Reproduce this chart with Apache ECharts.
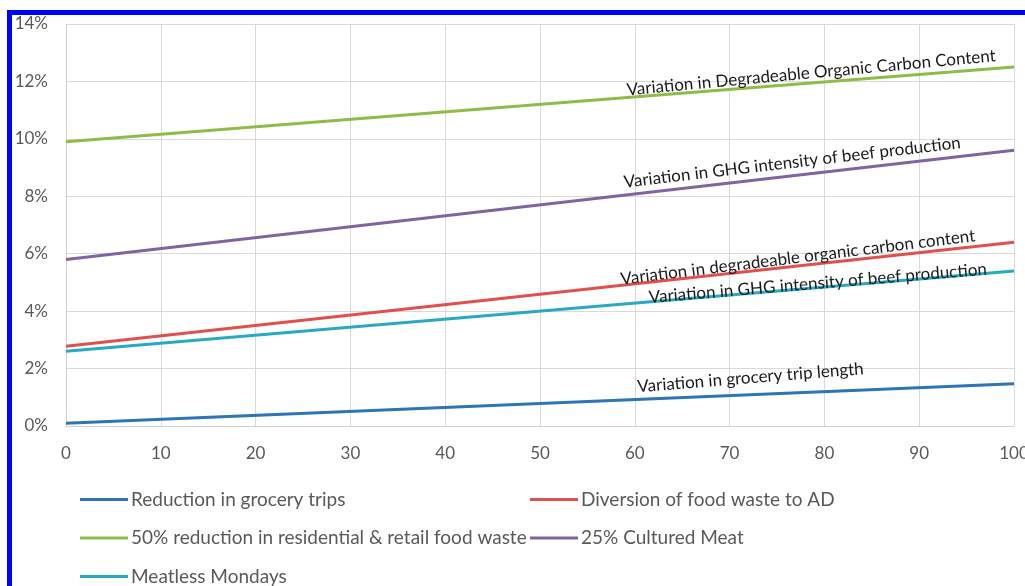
<!DOCTYPE html>
<html>
<head>
<meta charset="utf-8">
<script src="https://cdn.jsdelivr.net/npm/echarts@6/dist/echarts.min.js"></script>
<style>
  html, body { margin: 0; padding: 0; background: #fff; overflow: hidden; width: 1025px; height: 586px; }
  #chart { position: absolute; left: 0; top: 0; width: 1025px; height: 586px; }
  #frameTop { position: absolute; left: 7px; top: 10px; width: 1018px; height: 5px; background: #0000ff; }
  #frameLeft { position: absolute; left: 7px; top: 10px; width: 5px; height: 576px; background: #0000ff; }
</style>
</head>
<body>
<div id="chart"></div>
<div id="frameTop"></div>
<div id="frameLeft"></div>
<script>
// ---- data ----
var xValues = [0, 100];
var seriesNames = [
  'Reduction in grocery trips',
  'Diversion of food waste to AD',
  '50% reduction in residential & retail food waste',
  '25% Cultured Meat',
  'Meatless Mondays'
];
var groceryTrips = [0.1, 1.47];
var foodWasteAD = [2.78, 6.4];
var foodWaste50 = [9.9, 12.5];
var culturedMeat = [5.8, 9.6];
var meatlessMondays = [2.6, 5.4];
var yTicks = [0, 2, 4, 6, 8, 10, 12, 14];
var xTicks = [0, 10, 20, 30, 40, 50, 60, 70, 80, 90, 100];
// annotation texts (anchored in data coordinates)
var annoText = [
  'Variation in grocery trip length',
  'Variation in degradeable organic carbon content',
  'Variation in Degradeable Organic Carbon Content',
  'Variation in GHG intensity of beef production',
  'Variation in GHG intensity of beef production'
];
var annoX = [72.2, 77.2, 78.6, 76.6, 79.3];
var annoY = [1.68, 5.87, 12.3, 9.18, 4.97];
var annoAngle = [4.6, 7.0, 5.3, 6.7, 4.8];

var colors = ['#2e75b6', '#e0504f', '#8fbc48', '#8064a2', '#28a9c4'];
var values = [groceryTrips, foodWasteAD, foodWaste50, culturedMeat, meatlessMondays];
var FONT = 'Lato';

var chart = echarts.init(document.getElementById('chart'), null, { renderer: 'canvas', width: 1025, height: 586 });

var series = seriesNames.map(function (name, i) {
  return {
    name: name,
    type: 'line',
    data: xValues.map(function (x, j) { return [x, values[i][j]]; }),
    showSymbol: false,
    symbol: 'none',
    lineStyle: { width: 3, color: colors[i] },
    itemStyle: { color: colors[i] },
    silent: true,
    markPoint: {
      symbol: 'circle',
      symbolSize: 0,
      silent: true,
      data: [{
        coord: [annoX[i], annoY[i]],
        label: {
          show: true,
          position: 'inside',
          formatter: annoText[i],
          rotate: annoAngle[i],
          color: '#1a1a1a',
          fontFamily: FONT,
          fontSize: 17
        }
      }]
    }
  };
});

// legend layout: two columns, three rows (Excel style)
var legendSlots = [[80, 0], [530, 0], [80, 1], [530, 1], [80, 2]];
var legends = seriesNames.map(function (name, i) {
  return {
    orient: 'horizontal',
    left: legendSlots[i][0],
    top: 490 + legendSlots[i][1] * 38.5,
    padding: 0,
    itemWidth: 48,
    itemHeight: 3,
    icon: 'rect',
    selectedMode: false,
    data: [name],
    textStyle: { color: '#595959', fontFamily: FONT, fontSize: 19, lineHeight: 16, padding: [0, 0, 0, -2] }
  };
});

var option = {
  animation: false,
  backgroundColor: '#ffffff',
  grid: { left: 66, right: 11, top: 24, bottom: 160, containLabel: false, outerBoundsMode: 'none' },
  xAxis: {
    type: 'value',
    min: xTicks[0],
    max: xTicks[xTicks.length - 1],
    interval: 10,
    axisLine: { show: true, lineStyle: { color: '#d0d0d0', width: 1 } },
    axisTick: { show: false },
    axisLabel: { color: '#595959', fontFamily: FONT, fontSize: 17, margin: 19 },
    splitLine: { show: true, lineStyle: { color: '#d9d9d9', width: 1 } }
  },
  yAxis: {
    type: 'value',
    min: yTicks[0],
    max: yTicks[yTicks.length - 1],
    interval: 2,
    axisLine: { show: true, lineStyle: { color: '#d0d0d0', width: 1 } },
    axisTick: { show: false },
    axisLabel: { color: '#595959', fontFamily: FONT, fontSize: 17, margin: 18, formatter: '{value}%' },
    splitLine: { show: true, lineStyle: { color: '#d9d9d9', width: 1 } }
  },
  legend: legends,
  series: series
};

chart.setOption(option);
</script>
</body>
</html>
